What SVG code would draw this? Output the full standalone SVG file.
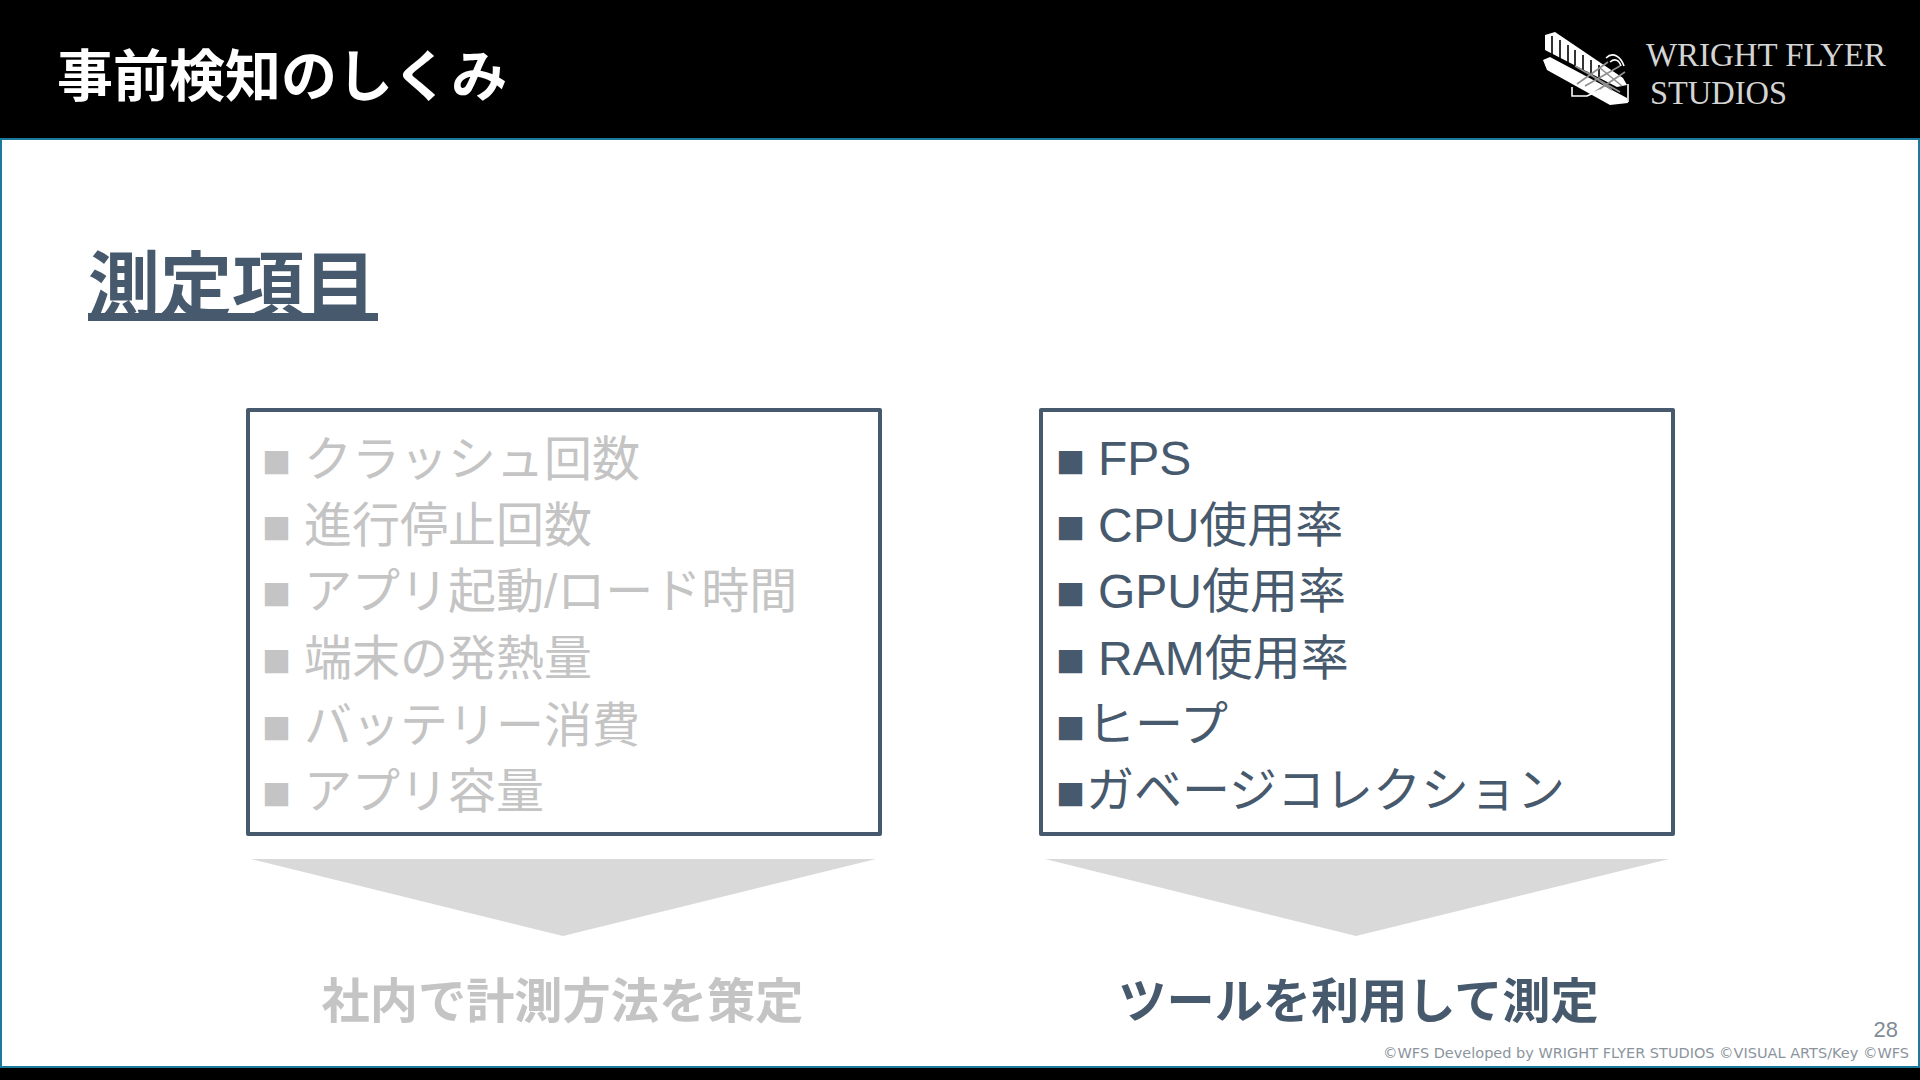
<svg xmlns="http://www.w3.org/2000/svg" width="1920" height="1080" viewBox="0 0 1920 1080">
<style>
text{font-family:"Liberation Sans","Noto Sans CJK JP",sans-serif}
.frame{fill:#1b7a9c}
.box{fill:#fff;stroke:#475a6d;stroke-width:4;stroke-linejoin:round}
.li{font-size:48px}
.dark{fill:#475a6d}
.dim{fill:#c4c4c4}
.head{font-size:48.2px;font-weight:700;text-anchor:middle}
.tri{fill:#d9d9d9}
.logo{font-family:"Liberation Serif",serif;font-size:33px;fill:#d4d4d4}
.wing{fill:#fff}
.strut{stroke:#fff;stroke-width:1.6;fill:none}
.slit{stroke:#000;stroke-width:1.6;fill:none}
.mesh{stroke:#8f8f8f;stroke-width:1.6;fill:none}
</style>
<rect width="1920" height="1080" class="frame"/>
<rect x="2" y="140" width="1916" height="926" fill="#fff"/>
<rect width="1920" height="138" fill="#000"/>
<rect y="1068" width="1920" height="12" fill="#000"/>
<text id="title" x="57" y="96" font-size="56" font-weight="700" fill="#fff">事前検知のしくみ</text>
<g id="logo">
<path class="wing" d="M1545 35L1555 32L1623 78L1627 85L1617 87L1545 50Z"/>
<path class="slit" d="M1552 36V54M1560 40V58M1568 45V62M1575 50V66M1583 55V71M1591 60V75M1599 65V80"/>
<path class="wing" d="M1543 60L1550 57L1627 98L1628 103L1610 105L1547 70Z"/>
<path class="mesh" d="M1575 66L1620 92M1585 86L1620 66M1595 92L1625 72M1577 84L1608 62M1600 68L1622 86M1587 72L1612 90"/>
<path class="strut" d="M1606 58C1613 51 1621 57 1624 66M1610 62C1615 58 1619 60 1621 66M1572 87V96H1587L1600 90M1628 84V102"/>
<text class="logo" x="1646" y="66" textLength="240" lengthAdjust="spacingAndGlyphs">WRIGHT FLYER</text>
<text class="logo" x="1650" y="104" textLength="137" lengthAdjust="spacingAndGlyphs">STUDIOS</text>
</g>
<g id="heading">
<text x="88" y="311" font-size="72" font-weight="700" class="dark">測定項目</text>
<rect x="88" y="313" width="290" height="8" class="dark"/>
</g>
<g id="connectors"></g>
<g id="box-left">
<rect x="248" y="410" width="632" height="424" class="box"/>
<g class="li dim">
<text x="262" y="477">■</text><text x="304" y="476">クラッシュ回数</text>
<text x="262" y="543">■</text><text x="304" y="542">進行停止回数</text>
<text x="262" y="609">■</text><text x="304" y="608">アプリ起動/ロード時間</text>
<text x="262" y="676">■</text><text x="304" y="675">端末の発熱量</text>
<text x="262" y="743">■</text><text x="304" y="742">バッテリー消費</text>
<text x="262" y="809">■</text><text x="304" y="808">アプリ容量</text>
</g>
</g>
<g id="box-right">
<rect x="1041" y="410" width="632" height="424" class="box"/>
<g class="li dark">
<text x="1056" y="477">■</text><text x="1098" y="475">FPS</text>
<text x="1056" y="543">■</text><text x="1098" y="542">CPU使用率</text>
<text x="1056" y="609">■</text><text x="1098" y="608">GPU使用率</text>
<text x="1056" y="676">■</text><text x="1098" y="675">RAM使用率</text>
<text x="1056" y="743">■</text><text x="1087" y="741">ヒープ</text>
<text x="1056" y="809">■</text><text x="1086" y="807">ガベージコレクション</text>
</g>
</g>
<g id="arrow-left"><polygon class="tri" points="251,859 876,859 563,936"/></g>
<g id="arrow-right"><polygon class="tri" points="1045,859 1669,859 1356,936"/></g>
<g id="result-left"><text x="562.5" y="1018" class="head dim">社内で計測方法を策定</text></g>
<g id="result-right"><text x="1358.5" y="1018" class="head dark">ツールを利用して測定</text></g>
<g id="footer">
<text x="1898" y="1037" font-size="22" fill="#7f8c96" text-anchor="end">28</text>
<text x="1383" y="1058" font-size="14" fill="#8b949c" textLength="526" lengthAdjust="spacingAndGlyphs" style="font-family:'DejaVu Sans','Liberation Sans',sans-serif">©WFS Developed by WRIGHT FLYER STUDIOS ©VISUAL ARTS/Key ©WFS</text>
</g>
</svg>
